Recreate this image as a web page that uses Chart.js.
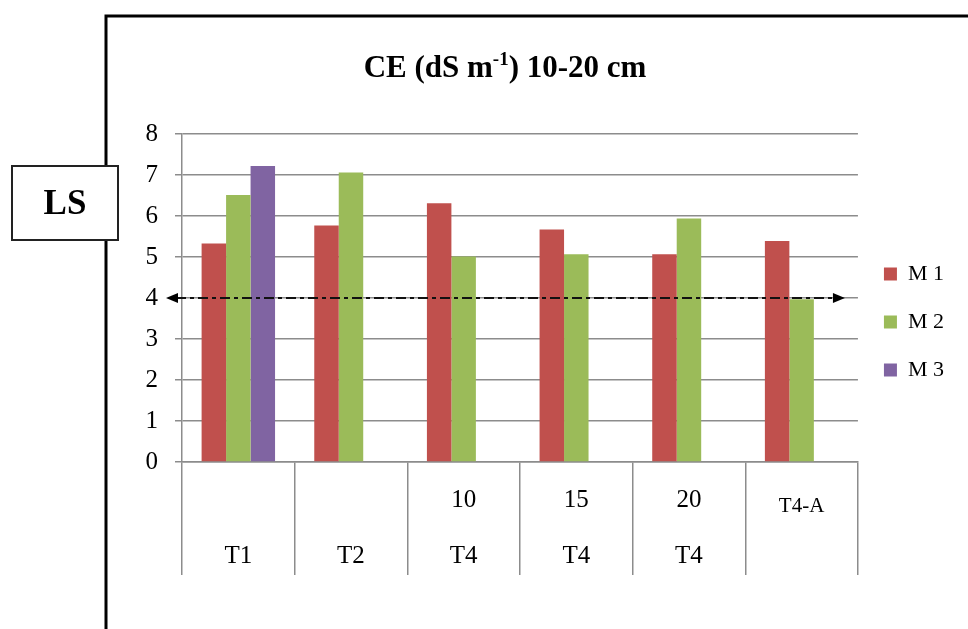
<!DOCTYPE html>
<html>
<head>
<meta charset="utf-8">
<title>CE 10-20 cm</title>
<script src="https://cdn.jsdelivr.net/npm/chart.js@4.4.1/dist/chart.umd.min.js"></script>
<style>
  html, body { margin: 0; padding: 0; background: #fff; }
  #wrap { width: 968px; height: 629px; }
</style>
</head>
<body>
<div id="wrap"><canvas id="ceChart" width="968" height="629"></canvas></div>
<script>
// data
const categories = [['', 'T1'], ['', 'T2'], ['10', 'T4'], ['15', 'T4'], ['20', 'T4'], ['T4-A']];
const m1 = [5.33, 5.77, 6.31, 5.67, 5.07, 5.39];
const m2 = [6.51, 7.06, 5.01, 5.07, 5.94, 3.97];
const m3 = [7.22, null, null, null, null, null];
const seriesNames = ['M 1', 'M 2', 'M 3'];
const yMin = 0, yMax = 8, yStep = 1;
const threshold = 4;
const titleParts = [['CE (dS m', false], ['-1', true], [') 10-20 cm', false]];
const sideLabel = 'LS';

const serif = "'Liberation Serif', 'Times New Roman', serif";
Chart.defaults.font.family = serif;
Chart.defaults.color = '#000';

const gridGrey = '#8c8c8c';

// frame, "LS" box and title with superscript
const decorPlugin = {
    id: 'decor',
    beforeDraw(chart) {
        const ctx = chart.ctx;
        ctx.save();
        ctx.fillStyle = '#fff';
        ctx.fillRect(0, 0, chart.width, chart.height);

        ctx.strokeStyle = '#000';
        ctx.lineWidth = 3;
        ctx.beginPath();
        ctx.moveTo(106, chart.height);
        ctx.lineTo(106, 16);
        ctx.lineTo(chart.width, 16);
        ctx.stroke();

        ctx.fillStyle = '#fff';
        ctx.fillRect(12, 166, 106, 74);
        ctx.lineWidth = 2;
        ctx.strokeStyle = '#222';
        ctx.strokeRect(12, 166, 106, 74);
        ctx.fillStyle = '#000';
        ctx.font = 'bold 35px ' + serif;
        ctx.textAlign = 'center';
        ctx.textBaseline = 'alphabetic';
        ctx.fillText(sideLabel, 65, 214);

        // title
        const big = 'bold 31px ' + serif, small = 'bold 19px ' + serif;
        ctx.textAlign = 'left';
        let total = 0;
        titleParts.forEach(([t, sup]) => {
            ctx.font = sup ? small : big;
            total += ctx.measureText(t).width;
        });
        let x = 505 - total / 2;
        titleParts.forEach(([t, sup]) => {
            ctx.font = sup ? small : big;
            ctx.fillText(t, x, sup ? 65 : 77);
            x += ctx.measureText(t).width;
        });
        ctx.restore();
    },
    afterDatasetsDraw(chart) {
        // dash-dot threshold line with arrow heads
        const ctx = chart.ctx;
        const area = chart.chartArea;
        const y = chart.scales.y.getPixelForValue(threshold);
        const x0 = area.left - 16, x1 = area.right - 13;
        ctx.save();
        ctx.strokeStyle = '#111';
        ctx.fillStyle = '#000';
        ctx.lineWidth = 2;
        ctx.setLineDash([10, 4, 4, 4]);
        ctx.beginPath();
        ctx.moveTo(x0 + 10, y);
        ctx.lineTo(x1 - 10, y);
        ctx.stroke();
        ctx.setLineDash([]);
        ctx.beginPath();
        ctx.moveTo(x0, y);
        ctx.lineTo(x0 + 12, y - 5);
        ctx.lineTo(x0 + 12, y + 5);
        ctx.closePath();
        ctx.fill();
        ctx.beginPath();
        ctx.moveTo(x1, y);
        ctx.lineTo(x1 - 12, y - 5);
        ctx.lineTo(x1 - 12, y + 5);
        ctx.closePath();
        ctx.fill();
        ctx.restore();
    }
};

const ctx = document.getElementById('ceChart').getContext('2d');
const chart = new Chart(ctx, {
    type: 'bar',
    data: {
        labels: categories,
        datasets: [
            { label: seriesNames[0], data: m1, backgroundColor: '#c0504d' },
            { label: seriesNames[1], data: m2, backgroundColor: '#9bbb59' },
            { label: seriesNames[2], data: m3, backgroundColor: '#8064a2' }
        ]
    },
    options: {
        responsive: false,
        animation: false,
        devicePixelRatio: 1,
        datasets: {
            bar: { categoryPercentage: 0.652, barPercentage: 1.0, borderWidth: 0 }
        },
        layout: { padding: { top: 134, left: 0, right: 14, bottom: 0 } },
        scales: {
            x: {
                grid: {
                    drawOnChartArea: false,
                    drawTicks: true,
                    tickLength: 113,
                    color: gridGrey,
                    lineWidth: 1.5,
                    offset: true
                },
                border: { display: true, color: gridGrey, width: 1.5 },
                ticks: {
                    autoSkip: false,
                    maxRotation: 0,
                    padding: -103,
                    color: '#000',
                    font: (c) => c.index === 5
                        ? { size: 21, lineHeight: '68px' }
                        : { size: 25, lineHeight: '56px' }
                },
                afterFit(scale) { scale.height = 167; }
            },
            y: {
                min: yMin,
                max: yMax,
                ticks: { stepSize: yStep, padding: 17, color: '#000', font: { size: 25 } },
                grid: { color: gridGrey, lineWidth: 1.5, tickLength: 7 },
                border: { display: true, color: gridGrey, width: 1.5 },
                afterFit(scale) { scale.width = 182; }
            }
        },
        plugins: {
            title: { display: false },
            tooltip: { enabled: false },
            legend: {
                position: 'right',
                align: 'start',
                maxWidth: 110,
                title: { display: true, text: ' ', padding: { top: 89, bottom: 0 }, font: { size: 12, lineHeight: '14px' } },
                labels: {
                    boxWidth: 13,
                    boxHeight: 13,
                    padding: 26,
                    color: '#000',
                    font: { size: 22 }
                }
            }
        }
    },
    plugins: [decorPlugin]
});
</script>
</body>
</html>
